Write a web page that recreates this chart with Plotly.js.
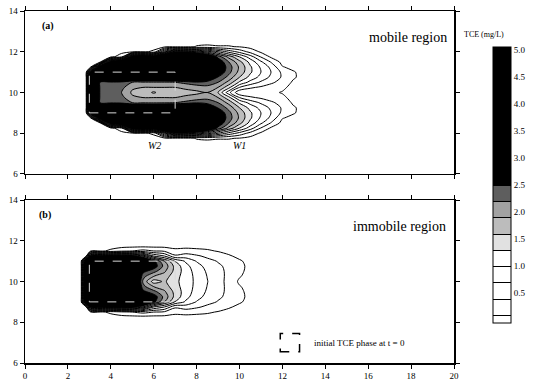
<!DOCTYPE html>
<html>
<head>
<meta charset="utf-8">
<script src="https://cdn.plot.ly/plotly-3.0.1.min.js"></script>
<style>html,body{margin:0;padding:0;background:#fff;}#chart{width:537px;height:383px;}</style>
</head>
<body>
<div id="chart"></div>
<script>
// grid positions (x along plume, y across plume)
var xs = [2.6, 2.85, 3.05, 3.5, 4, 4.5, 5, 5.5, 6, 6.5, 7, 7.5, 8, 8.5, 9, 9.5, 10, 10.5, 11, 11.5, 12, 12.5, 13];
var ys = [7.5, 7.75, 8, 8.25, 8.5, 8.75, 9, 9.25, 9.5, 9.75, 10, 10.25, 10.5, 10.75, 11, 11.25, 11.5, 11.75, 12, 12.25, 12.5];

// TCE concentration (mg/L), one list per x position (values from y = 7.5 to 12.5)
var zMobile = [
  [0,0,0,0,0,0,0,0,0,0,0,0,0,0,0,0,0,0,0,0,0],
  [0,0,0,0,0,0,0,0,0,0,0,0,0,0,0,0,0,0,0,0,0],
  [0,0,0,0,0,0,2.6,4.2,4.2,4.2,4.2,4.2,4.2,4.2,2.6,0,0,0,0,0,0],
  [0,0,0,0,0,2.9,3.5,3.3,2.48,2.45,2.45,2.45,2.48,3.3,3.5,2.9,0,0,0,0,0],
  [0,0,0,0,2.9,3.7,3.8,3.4,2.45,2.38,2.35,2.38,2.45,3.4,3.8,3.7,2.9,0,0,0,0],
  [0,0,0,0.3,3.6,4.0,4.0,3.6,2.4,2.3,2.2,2.3,2.4,3.6,4.0,4.0,3.6,0.3,0,0,0],
  [0,0,0,2.9,4.0,4.3,4.2,3.4,2.2,1.95,1.85,1.95,2.2,3.4,4.2,4.3,4.0,2.9,0,0,0],
  [0,0,0.05,3.3,4.3,4.5,4.4,3.5,2.15,1.9,1.8,1.9,2.15,3.5,4.4,4.5,4.3,3.3,0.05,0,0],
  [0,0,0.15,3.0,4.4,4.6,4.4,3.4,2.15,1.9,1.55,1.9,2.15,3.4,4.4,4.6,4.4,3.0,0.15,0,0],
  [0,0,1.5,4.0,4.6,4.7,4.5,3.5,2.15,1.9,1.8,1.9,2.15,3.5,4.5,4.7,4.6,4.0,1.5,0,0],
  [0,0,2.45,4.2,4.7,4.8,4.6,3.6,2.2,1.9,1.8,1.9,2.2,3.6,4.6,4.8,4.7,4.2,2.45,0,0],
  [0,0,2.4,4.2,4.7,4.8,4.6,3.8,2.3,1.95,1.82,1.95,2.3,3.8,4.6,4.8,4.7,4.2,2.4,0,0],
  [0,0.12,2.2,3.8,4.4,4.5,4.3,3.6,2.45,2.0,1.85,2.0,2.45,3.6,4.3,4.5,4.4,3.8,2.2,0.12,0],
  [0,0.15,1.8,3.2,3.7,3.8,3.5,2.9,2.4,2.1,1.9,2.1,2.4,2.9,3.5,3.8,3.7,3.2,1.8,0.15,0],
  [0,0.12,1.3,2.4,2.8,2.9,2.8,2.48,2.2,1.9,1.6,1.9,2.2,2.48,2.8,2.9,2.8,2.4,1.3,0.12,0],
  [0,0.12,0.9,1.8,2.2,2.35,2.3,2.1,1.8,1.4,0.8,1.4,1.8,2.1,2.3,2.35,2.2,1.8,0.9,0.12,0],
  [0,0.08,0.6,1.3,1.7,1.85,1.8,1.6,1.25,0.7,0.15,0.7,1.25,1.6,1.8,1.85,1.7,1.3,0.6,0.08,0],
  [0,0,0.3,0.85,1.2,1.35,1.35,1.2,0.9,0.45,0.17,0.45,0.9,1.2,1.35,1.35,1.2,0.85,0.3,0,0],
  [0,0,0.05,0.38,0.75,0.95,1.0,0.9,0.65,0.35,0.17,0.35,0.65,0.9,1.0,0.95,0.75,0.38,0.05,0,0],
  [0,0,0,0.03,0.35,0.6,0.68,0.62,0.45,0.25,0.15,0.25,0.45,0.62,0.68,0.6,0.35,0.03,0,0,0],
  [0,0,0,0,0,0.12,0.33,0.36,0.28,0.16,0.08,0.16,0.28,0.36,0.33,0.12,0,0,0,0,0],
  [0,0,0,0,0,0.02,0.13,0.14,0.06,0.01,0,0.01,0.06,0.14,0.13,0.02,0,0,0,0,0],
  [0,0,0,0,0,0,0,0,0,0,0,0,0,0,0,0,0,0,0,0,0]
];

var zImmobile = [
  [0,0,0,0,0,0,0,0,0,0,0,0,0,0,0,0,0,0,0,0,0],
  [0,0,0,0,0,0,3.2,4.0,4.0,4.0,4.0,4.0,4.0,4.0,3.2,0,0,0,0,0,0],
  [0,0,0,0,0,2.55,4.5,4.5,4.5,4.5,4.5,4.5,4.5,4.5,4.5,2.55,0,0,0,0,0],
  [0,0,0,0,0.05,2.7,4.6,4.6,4.6,4.6,4.6,4.6,4.6,4.6,4.6,2.7,0.05,0,0,0,0],
  [0,0,0,0,0.15,2.8,4.6,4.6,4.6,4.6,4.6,4.6,4.6,4.6,4.6,2.8,0.15,0,0,0,0],
  [0,0,0,0,0.3,2.8,4.6,4.6,4.6,4.6,4.6,4.6,4.6,4.6,4.6,2.8,0.3,0,0,0,0],
  [0,0,0,0,0.4,2.7,4.2,4.2,4.0,3.9,3.8,3.9,4.0,4.2,4.2,2.7,0.4,0,0,0,0],
  [0,0,0,0,0.5,2.2,3.4,3.2,2.6,2.3,2.15,2.3,2.6,3.2,3.4,2.2,0.5,0,0,0,0],
  [0,0,0,0,0.4,1.3,2.6,2.7,2.3,1.9,1.45,1.9,2.3,2.7,2.6,1.3,0.4,0,0,0,0],
  [0,0,0,0,0.35,1.0,1.9,2.1,1.95,1.75,1.65,1.75,1.95,2.1,1.9,1.0,0.35,0,0,0,0],
  [0,0,0,0,0.18,0.45,1.28,1.5,1.5,1.42,1.38,1.42,1.5,1.5,1.28,0.45,0.18,0,0,0,0],
  [0,0,0,0,0.22,0.55,0.95,1.1,1.15,1.15,1.15,1.15,1.15,1.1,0.95,0.55,0.22,0,0,0,0],
  [0,0,0,0,0.18,0.45,0.68,0.82,0.88,0.92,0.93,0.92,0.88,0.82,0.68,0.45,0.18,0,0,0,0],
  [0,0,0,0,0.14,0.33,0.5,0.6,0.66,0.69,0.71,0.69,0.66,0.6,0.5,0.33,0.14,0,0,0,0],
  [0,0,0,0,0.08,0.25,0.38,0.45,0.48,0.5,0.5,0.5,0.48,0.45,0.38,0.25,0.08,0,0,0,0],
  [0,0,0,0,0,0.14,0.28,0.33,0.34,0.33,0.32,0.33,0.34,0.33,0.28,0.14,0,0,0,0,0],
  [0,0,0,0,0,0.02,0.14,0.2,0.17,0.12,0.05,0.12,0.17,0.2,0.14,0.02,0,0,0,0,0],
  [0,0,0,0,0,0,0,0,0,0,0,0,0,0,0,0,0,0,0,0,0],
  [0,0,0,0,0,0,0,0,0,0,0,0,0,0,0,0,0,0,0,0,0],
  [0,0,0,0,0,0,0,0,0,0,0,0,0,0,0,0,0,0,0,0,0],
  [0,0,0,0,0,0,0,0,0,0,0,0,0,0,0,0,0,0,0,0,0],
  [0,0,0,0,0,0,0,0,0,0,0,0,0,0,0,0,0,0,0,0,0],
  [0,0,0,0,0,0,0,0,0,0,0,0,0,0,0,0,0,0,0,0,0]
];

// initial TCE phase outline (t = 0)
var phaseX = [3, 7, 7, 3, 3];
var phaseY = [9, 9, 11, 11, 9];

// colorbar ticks
var cbTicks = [0.5, 1.0, 1.5, 2.0, 2.5, 3.0, 3.5, 4.0, 4.5, 5.0];
var cbLabels = ['0.5', '1.0', '1.5', '2.0', '2.5', '3.0', '3.5', '4.0', '4.5', '5.0'];
var xTicks = [0, 2, 4, 6, 8, 10, 12, 14, 16, 18, 20];
var yTicks = [6, 8, 10, 12, 14];

var grey = [[0,'#ffffff'],[0.26,'#ffffff'],[0.29,'#e4e4e4'],[0.35,'#bdbdbd'],[0.41,'#a4a4a4'],[0.47,'#606060'],[0.5,'#000000'],[1,'#000000']];

function contourTrace(z, xa, ya, scale) {
  return {
    type: 'contour', x: xs, y: ys, z: z, transpose: true,
    xaxis: xa, yaxis: ya,
    zauto: false, zmin: 0, zmax: 5,
    autocontour: false,
    contours: {start: 0.1, end: 4.9, size: 0.3, coloring: 'fill', showlines: true},
    line: {color: '#000', width: 1, smoothing: 0.85},
    colorscale: grey,
    showscale: scale,
    hoverinfo: 'skip',
    colorbar: {
      x: 1.091, xanchor: 'left', xpad: 0, y: 0.114, yanchor: 'bottom', ypad: 0,
      len: 0.784, lenmode: 'fraction', thickness: 18, thicknessmode: 'pixels',
      outlinewidth: 1, outlinecolor: '#000',
      tickvals: cbTicks, ticktext: cbLabels, ticks: '',
      tickfont: {family: 'Liberation Serif', size: 9, color: '#000'}
    }
  };
}

var traces = [
  contourTrace(zMobile, 'x', 'y', true),
  contourTrace(zImmobile, 'x2', 'y2', false),
  {type: 'scatter', mode: 'lines', x: phaseX, y: phaseY, xaxis: 'x', yaxis: 'y',
   line: {color: '#d8d8d8', width: 1, dash: 'dash'}, hoverinfo: 'skip', showlegend: false},
  {type: 'scatter', mode: 'lines', x: phaseX, y: phaseY, xaxis: 'x2', yaxis: 'y2',
   line: {color: '#d8d8d8', width: 1, dash: 'dash'}, hoverinfo: 'skip', showlegend: false}
];

function xAxis(anchor, labels) {
  return {domain: [0, 1], range: [0, 20], anchor: anchor, tickvals: xTicks,
    ticks: 'outside', ticklen: 4, tickwidth: 1, tickcolor: '#000',
    showticklabels: labels, tickfont: {family: 'Liberation Serif', size: 9, color: '#000'},
    showline: true, linewidth: 1.5, linecolor: '#000', mirror: 'ticks',
    showgrid: false, zeroline: false, fixedrange: true};
}
function yAxis(anchor, dom) {
  return {domain: dom, range: [6, 14], anchor: anchor, tickvals: yTicks,
    ticks: 'outside', ticklen: 4, tickwidth: 1, tickcolor: '#000',
    tickfont: {family: 'Liberation Serif', size: 9, color: '#000'},
    showline: true, linewidth: 1.5, linecolor: '#000', mirror: 'ticks',
    showgrid: false, zeroline: false, fixedrange: true};
}

var serif = 'Liberation Serif';
var layout = {
  width: 537, height: 383,
  margin: {l: 25, r: 83, t: 11, b: 20, pad: 0},
  paper_bgcolor: '#fff', plot_bgcolor: '#fff',
  font: {family: serif, color: '#000'},
  showlegend: false,
  xaxis: xAxis('y', false),
  yaxis: yAxis('x', [0.537, 1]),
  xaxis2: xAxis('y2', true),
  yaxis2: yAxis('x2', [0, 0.463]),
  annotations: [
    {xref: 'x', yref: 'y', x: 1.05, y: 13.25, text: '<b>(a)</b>', showarrow: false, font: {family: serif, size: 10}},
    {xref: 'x', yref: 'y', x: 19.75, y: 12.68, xanchor: 'right', text: 'mobile region', showarrow: false, font: {family: serif, size: 14}},
    {xref: 'x', yref: 'y', x: 6.05, y: 7.38, text: '<i>W2</i>', showarrow: false, font: {family: serif, size: 10}},
    {xref: 'x', yref: 'y', x: 10.0, y: 7.38, text: '<i>W1</i>', showarrow: false, font: {family: serif, size: 10}},
    {xref: 'x2', yref: 'y2', x: 0.95, y: 13.26, text: '<b>(b)</b>', showarrow: false, font: {family: serif, size: 10}},
    {xref: 'x2', yref: 'y2', x: 19.7, y: 12.68, xanchor: 'right', text: 'immobile region', showarrow: false, font: {family: serif, size: 14}},
    {xref: 'x2', yref: 'y2', x: 13.4, y: 6.98, xanchor: 'left', text: 'initial TCE phase at t = 0', showarrow: false, font: {family: serif, size: 9}},
    {xref: 'paper', yref: 'paper', x: 1.121, y: 0.952, text: 'TCE (mg/L)', showarrow: false, font: {family: serif, size: 8}}
  ],
  shapes: [
    {type: 'rect', xref: 'x2', yref: 'y2', x0: 11.9, x1: 12.8, y0: 6.55, y1: 7.45,
     line: {color: '#000', width: 1.5, dash: 'dash'}}
  ]
};

Plotly.newPlot('chart', traces, layout, {staticPlot: true, displayModeBar: false});
</script>
</body>
</html>
